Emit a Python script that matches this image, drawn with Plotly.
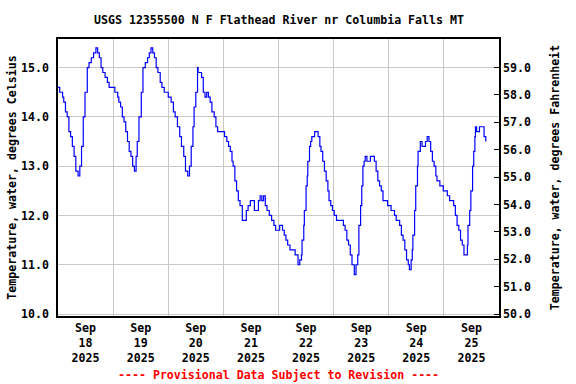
import plotly.graph_objects as go

# --- data (time, water temperature in deg C) ---
times = [
    "2025-09-18 00:00", "2025-09-18 00:45", "2025-09-18 02:00", "2025-09-18 02:30", "2025-09-18 03:15",
    "2025-09-18 04:00", "2025-09-18 04:45", "2025-09-18 05:30", "2025-09-18 06:15", "2025-09-18 07:00",
    "2025-09-18 07:45", "2025-09-18 08:45", "2025-09-18 09:30", "2025-09-18 10:15", "2025-09-18 11:00",
    "2025-09-18 11:45", "2025-09-18 12:45", "2025-09-18 13:30", "2025-09-18 14:30", "2025-09-18 15:30",
    "2025-09-18 16:30", "2025-09-18 17:15", "2025-09-18 18:00", "2025-09-18 18:45", "2025-09-18 19:30",
    "2025-09-18 20:30", "2025-09-18 21:30", "2025-09-18 22:15", "2025-09-18 23:45",
    "2025-09-19 00:45", "2025-09-19 02:00", "2025-09-19 02:30", "2025-09-19 03:15", "2025-09-19 04:00",
    "2025-09-19 04:45", "2025-09-19 05:30", "2025-09-19 06:15", "2025-09-19 07:00", "2025-09-19 07:45",
    "2025-09-19 08:30", "2025-09-19 09:15", "2025-09-19 10:00", "2025-09-19 10:30", "2025-09-19 11:15",
    "2025-09-19 12:15", "2025-09-19 13:00", "2025-09-19 14:00", "2025-09-19 15:00", "2025-09-19 15:45",
    "2025-09-19 16:30", "2025-09-19 17:15", "2025-09-19 18:00", "2025-09-19 18:45", "2025-09-19 19:30",
    "2025-09-19 20:30", "2025-09-19 21:15", "2025-09-19 22:15", "2025-09-19 23:15",
    "2025-09-20 00:00", "2025-09-20 01:15", "2025-09-20 02:15", "2025-09-20 03:00", "2025-09-20 04:00",
    "2025-09-20 05:00", "2025-09-20 05:45", "2025-09-20 06:45", "2025-09-20 07:30", "2025-09-20 08:30",
    "2025-09-20 09:15", "2025-09-20 10:00", "2025-09-20 10:45", "2025-09-20 11:15", "2025-09-20 12:00",
    "2025-09-20 12:45", "2025-09-20 13:00", "2025-09-20 13:45", "2025-09-20 14:30", "2025-09-20 15:15",
    "2025-09-20 16:00", "2025-09-20 16:45", "2025-09-20 17:30", "2025-09-20 18:15", "2025-09-20 19:00",
    "2025-09-20 20:00", "2025-09-20 20:45", "2025-09-20 21:30", "2025-09-20 23:00",
    "2025-09-21 00:30", "2025-09-21 01:30", "2025-09-21 02:15", "2025-09-21 03:00", "2025-09-21 03:45",
    "2025-09-21 04:15", "2025-09-21 05:00", "2025-09-21 05:45", "2025-09-21 06:30", "2025-09-21 07:15",
    "2025-09-21 08:15", "2025-09-21 09:30", "2025-09-21 10:00", "2025-09-21 10:45", "2025-09-21 11:45",
    "2025-09-21 12:45", "2025-09-21 13:30", "2025-09-21 14:15", "2025-09-21 15:15", "2025-09-21 16:00",
    "2025-09-21 16:45", "2025-09-21 17:30", "2025-09-21 18:15", "2025-09-21 19:00", "2025-09-21 20:00",
    "2025-09-21 21:00", "2025-09-21 22:00", "2025-09-21 22:45",
    "2025-09-22 00:15", "2025-09-22 00:30", "2025-09-22 01:45", "2025-09-22 02:30", "2025-09-22 03:15",
    "2025-09-22 04:00", "2025-09-22 05:00", "2025-09-22 06:30", "2025-09-22 07:15", "2025-09-22 08:30",
    "2025-09-22 09:15", "2025-09-22 10:00", "2025-09-22 10:15", "2025-09-22 11:00", "2025-09-22 11:15",
    "2025-09-22 12:00", "2025-09-22 12:30", "2025-09-22 12:45", "2025-09-22 13:30", "2025-09-22 14:00",
    "2025-09-22 14:30", "2025-09-22 15:45", "2025-09-22 16:30", "2025-09-22 17:15", "2025-09-22 18:00",
    "2025-09-22 18:30", "2025-09-22 19:15", "2025-09-22 20:00", "2025-09-22 20:45", "2025-09-22 21:30",
    "2025-09-22 22:00", "2025-09-22 22:45", "2025-09-22 23:30",
    "2025-09-23 00:15", "2025-09-23 01:15", "2025-09-23 03:00", "2025-09-23 04:15", "2025-09-23 05:00",
    "2025-09-23 05:45", "2025-09-23 06:30", "2025-09-23 07:15", "2025-09-23 08:00", "2025-09-23 09:00",
    "2025-09-23 09:45", "2025-09-23 10:30", "2025-09-23 11:00", "2025-09-23 11:45", "2025-09-23 12:15",
    "2025-09-23 12:45", "2025-09-23 13:15", "2025-09-23 13:45", "2025-09-23 14:30", "2025-09-23 15:15",
    "2025-09-23 16:00", "2025-09-23 17:00", "2025-09-23 17:45", "2025-09-23 18:30", "2025-09-23 19:15",
    "2025-09-23 20:00", "2025-09-23 20:45", "2025-09-23 21:30", "2025-09-23 22:45", "2025-09-23 23:30",
    "2025-09-24 00:30", "2025-09-24 01:00", "2025-09-24 02:30", "2025-09-24 03:15", "2025-09-24 04:00",
    "2025-09-24 04:45", "2025-09-24 05:30", "2025-09-24 06:15", "2025-09-24 07:00", "2025-09-24 07:45",
    "2025-09-24 08:30", "2025-09-24 09:00", "2025-09-24 09:45", "2025-09-24 10:15", "2025-09-24 10:30",
    "2025-09-24 11:15", "2025-09-24 11:45", "2025-09-24 12:30", "2025-09-24 12:45", "2025-09-24 13:30",
    "2025-09-24 13:45", "2025-09-24 14:30", "2025-09-24 15:15", "2025-09-24 16:00", "2025-09-24 16:45",
    "2025-09-24 17:30", "2025-09-24 18:15", "2025-09-24 19:00", "2025-09-24 19:45", "2025-09-24 20:30",
    "2025-09-24 21:00", "2025-09-24 22:15", "2025-09-24 23:45",
    "2025-09-25 01:30", "2025-09-25 02:30", "2025-09-25 03:45", "2025-09-25 04:15", "2025-09-25 05:00",
    "2025-09-25 05:45", "2025-09-25 06:30", "2025-09-25 07:15", "2025-09-25 08:00", "2025-09-25 08:45",
    "2025-09-25 09:45", "2025-09-25 10:15", "2025-09-25 10:30", "2025-09-25 11:15", "2025-09-25 11:45",
    "2025-09-25 12:30", "2025-09-25 13:00", "2025-09-25 13:30", "2025-09-25 13:45", "2025-09-25 14:15",
    "2025-09-25 14:45", "2025-09-25 15:30", "2025-09-25 16:45", "2025-09-25 17:30", "2025-09-25 18:15",
]
temp_c = [
    14.6, 14.5, 14.4, 14.3, 14.1, 14.0, 13.7, 13.6, 13.4, 13.2,
    12.9, 12.8, 13.0, 13.4, 14.0, 14.5, 15.0, 15.1, 15.2, 15.3,
    15.4, 15.3, 15.2, 15.0, 14.9, 14.8, 14.7, 14.6, 14.6,
    14.5, 14.4, 14.3, 14.2, 14.0, 13.9, 13.7, 13.5, 13.3, 13.2,
    13.0, 12.9, 13.2, 13.5, 14.0, 14.5, 15.0, 15.1, 15.2, 15.3,
    15.4, 15.3, 15.2, 15.0, 14.9, 14.7, 14.6, 14.5, 14.5,
    14.4, 14.3, 14.1, 14.0, 13.8, 13.6, 13.4, 13.2, 12.9, 12.8,
    13.0, 13.4, 13.8, 14.2, 14.5, 15.0, 14.9, 14.9, 14.8, 14.5,
    14.4, 14.5, 14.4, 14.3, 14.1, 14.0, 13.8, 13.7, 13.7,
    13.6, 13.5, 13.4, 13.3, 13.1, 13.0, 12.7, 12.5, 12.3, 12.2,
    11.9, 11.9, 12.1, 12.2, 12.3, 12.3, 12.1, 12.1, 12.3, 12.4,
    12.3, 12.4, 12.2, 12.1, 12.0, 11.9, 11.8, 11.7,
    11.7, 11.8, 11.7, 11.6, 11.5, 11.4, 11.3, 11.3, 11.2, 11.0,
    11.1, 11.2, 11.5, 11.8, 12.1, 12.6, 12.8, 13.1, 13.4, 13.5,
    13.6, 13.7, 13.7, 13.6, 13.4, 13.3, 13.1, 12.9, 12.7, 12.5,
    12.3, 12.2, 12.1,
    12.0, 11.9, 11.9, 11.8, 11.7, 11.5, 11.4, 11.2, 11.0, 10.8,
    11.0, 11.2, 11.8, 12.2, 12.6, 13.0, 13.1, 13.2, 13.1, 13.1,
    13.2, 13.2, 13.1, 12.9, 12.7, 12.6, 12.5, 12.3, 12.3, 12.2,
    12.2, 12.1, 12.0, 11.9, 11.9, 11.8, 11.6, 11.5, 11.3, 11.1,
    11.0, 10.9, 11.1, 11.3, 11.6, 12.1, 12.6, 13.0, 13.3, 13.3,
    13.5, 13.4, 13.4, 13.5, 13.6, 13.5, 13.3, 13.1, 13.0, 12.8,
    12.7, 12.6, 12.5,
    12.4, 12.3, 12.3, 12.2, 12.0, 11.8, 11.7, 11.5, 11.4, 11.2,
    11.2, 11.4, 11.8, 12.1, 12.5, 13.0, 13.3, 13.6, 13.8, 13.7,
    13.7, 13.8, 13.8, 13.6, 13.5,
]

y_range_c = [9.96, 15.58]
c_ticks = [10.0, 11.0, 12.0, 13.0, 14.0, 15.0]
f_ticks = [50.0, 51.0, 52.0, 53.0, 54.0, 55.0, 56.0, 57.0, 58.0, 59.0]
x_range = ["2025-09-18 00:00", "2025-09-26 00:00"]

title_text = "USGS 12355500 N F Flathead River nr Columbia Falls MT"
left_title = "Temperature, water, degrees Celsius"
right_title = "Temperature, water, degrees Fahrenheit"
footer_text = "---- Provisional Data Subject to Revision ----"

FONT = "DejaVu Sans Mono"
FS = 11.6
GRID = "#c8c8c8"


def fnt(color="black"):
    return dict(family=FONT, size=FS, color=color, weight="bold")


fig = go.Figure()
fig.add_trace(go.Scatter(
    x=times, y=temp_c, mode="lines", line_shape="hv",
    line=dict(color="#0000ff", width=1.2), showlegend=False, hoverinfo="skip",
))
# invisible trace for the Fahrenheit axis
fig.add_trace(go.Scatter(
    x=[times[0]], y=[temp_c[0] * 1.8 + 32], yaxis="y2", mode="markers",
    marker=dict(opacity=0), showlegend=False, hoverinfo="skip",
))

f_range = [v * 1.8 + 32 for v in y_range_c]

fig.update_layout(
    width=576, height=384,
    margin=dict(l=58, r=77, t=39, b=68, autoexpand=False),
    paper_bgcolor="white", plot_bgcolor="white",
    font=fnt(),
    xaxis=dict(
        range=x_range, type="date", dtick=86400000, tick0="2025-09-18",
        tickformat="%b<br>%d<br>%Y", ticklabelmode="period",
        showgrid=True, gridcolor=GRID, gridwidth=1,
        showline=True, linecolor="black", linewidth=1.5, mirror=True,
        ticks="", zeroline=False, automargin=False,
        tickfont=fnt(),
    ),
    yaxis=dict(
        range=y_range_c, tickvals=c_ticks, tickformat=".1f",
        showgrid=True, gridcolor=GRID, gridwidth=1,
        showline=True, linecolor="black", linewidth=1.5, mirror=True,
        ticks="", zeroline=False, automargin=False, ticklabelstandoff=5,
        title=dict(text=left_title, standoff=2, font=fnt()),
        tickfont=fnt(),
    ),
    yaxis2=dict(
        range=f_range, tickvals=f_ticks, tickformat=".1f",
        overlaying="y", side="right", showgrid=False, zeroline=False,
        showline=True, linecolor="black", linewidth=1.5, automargin=False,
        ticks="inside", ticklen=5, tickcolor="black",
        title=dict(text=right_title, standoff=21, font=fnt()),
        tickfont=fnt(),
    ),
    annotations=[
        dict(text=title_text, xref="paper", yref="paper", x=0.5, y=1, yshift=19,
             xanchor="center", yanchor="middle", showarrow=False, font=fnt()),
        dict(text=footer_text, xref="paper", yref="paper", x=0.5, y=0, yshift=-59,
             xanchor="center", yanchor="middle", showarrow=False, font=fnt("red")),
    ],
)

fig.write_html("out.html", config={"displayModeBar": False},
               post_script="document.body.style.margin='0';")
